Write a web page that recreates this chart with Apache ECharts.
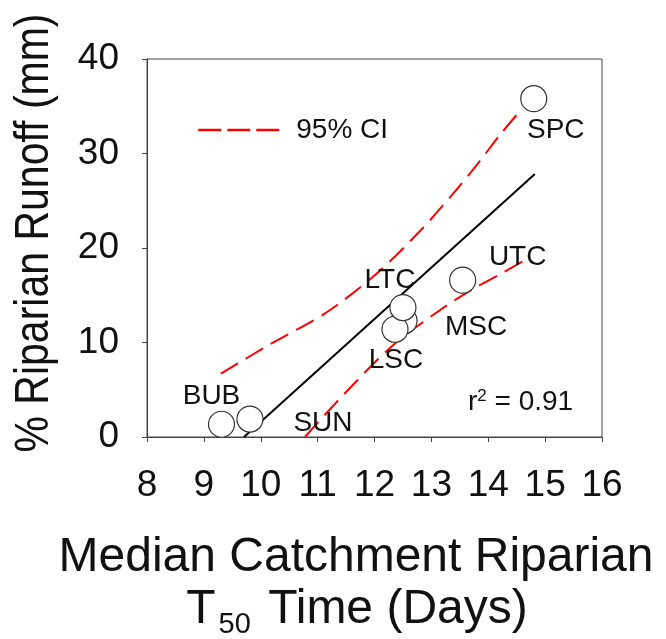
<!DOCTYPE html>
<html>
<head>
<meta charset="utf-8">
<script src="https://cdn.jsdelivr.net/npm/echarts@6/dist/echarts.min.js"></script>
<style>
  html, body { margin: 0; padding: 0; background: #fff; }
  #chart { width: 666px; height: 639px; }
</style>
</head>
<body>
<div id="chart"></div>
<script>
// Catchment sites and their observations (later entries are drawn on top)
const sites  = ['BUB', 'SUN', 'MSC', 'LSC', 'LTC', 'UTC', 'SPC'];
const t50    = [9.31, 9.81, 12.52, 12.36, 12.50, 13.55, 14.80];
const runoff = [1.35, 1.9, 12.3, 11.4, 13.7, 16.6, 35.8];

// Least-squares fit line
const fitX = [9.705, 14.82];
const fitY = [0, 27.83];

// 95% confidence band
const ciUpperX = [9.30, 10.16, 11.16, 12.04, 12.80, 13.39, 13.80, 14.21, 14.53];
const ciUpperY = [6.7, 9.8, 13.2, 17.3, 21.8, 25.8, 28.8, 32.0, 34.3];
const ciLowerX = [10.78, 11.45, 12.33, 13.24, 13.80, 14.18, 14.70];
const ciLowerY = [0.03, 4.44, 9.74, 13.79, 15.9, 17.14, 18.9];

// Axis ticks
const xTicks = [8, 9, 10, 11, 12, 13, 14, 15, 16];
const yTicks = [0, 10, 20, 30, 40];

// Site label placement relative to each marker (px)
const labelOffsets = {
  BUB: [-10, -28], SUN: [73, 4], LSC: [1, 31], LTC: [-13, -27],
  MSC: [72, 7], UTC: [55, -23], SPC: [22, 32]
};

const FONT = 'Liberation Sans, Arial, Helvetica, sans-serif';
const zip = (xs, ys) => xs.map((x, i) => [x, ys[i]]);
const ciLine = { color: '#ff0000', width: 2, type: [20, 9] };

const chart = echarts.init(document.getElementById('chart'));
chart.setOption({
  animation: false,
  backgroundColor: '#fff',
  textStyle: { fontFamily: FONT },
  grid: {
    left: 147, right: 64, top: 59, bottom: 202,
    show: true, borderColor: '#444', borderWidth: 1, backgroundColor: 'transparent'
  },
  legend: {
    data: ['95% CI'],
    left: 197, top: 116, padding: 0,
    itemWidth: 81, itemHeight: 28,
    itemStyle: { opacity: 0 },
    lineStyle: { type: [23, 6], width: 2.5, color: '#ff0000' },
    textStyle: { fontSize: 28, color: '#111', fontFamily: FONT, padding: [0, 0, 0, 12] }
  },
  xAxis: {
    type: 'value', min: xTicks[0], max: xTicks[xTicks.length - 1], interval: 1,
    axisLine: { lineStyle: { color: '#444', width: 1 } },
    axisTick: { show: true, inside: false, length: 5, lineStyle: { color: '#444' } },
    splitLine: { show: false },
    axisLabel: { fontSize: 37, color: '#111', margin: 30, fontFamily: FONT }
  },
  yAxis: {
    type: 'value', min: yTicks[0], max: yTicks[yTicks.length - 1], interval: 10,
    axisLine: { show: true, lineStyle: { color: '#444', width: 1 } },
    axisTick: { show: true, inside: false, length: 5, lineStyle: { color: '#444' } },
    splitLine: { show: false },
    axisLabel: { fontSize: 37, color: '#111', margin: 28, fontFamily: FONT }
  },
  series: [
    {
      name: 'fit', type: 'line', data: zip(fitX, fitY),
      symbol: 'none', lineStyle: { color: '#000', width: 2 }, z: 2, silent: true
    },
    {
      name: '95% CI', type: 'line', data: zip(ciUpperX, ciUpperY), smooth: 0.3,
      symbol: 'none', itemStyle: { color: '#ff0000' }, lineStyle: ciLine, z: 2
    },
    {
      name: '95% CI', type: 'line', data: zip(ciLowerX, ciLowerY), smooth: 0.3,
      symbol: 'none', itemStyle: { color: '#ff0000' }, lineStyle: ciLine, z: 2
    },
    {
      name: 'sites', type: 'scatter', z: 5,
      symbol: 'circle', symbolSize: 26,
      itemStyle: { color: '#fff', borderColor: '#333', borderWidth: 1.2, opacity: 1 },
      data: sites.map((s, i) => ({
        name: s, value: [t50[i], runoff[i]],
        label: { offset: labelOffsets[s] }
      })),
      label: {
        show: true, position: 'inside', formatter: p => p.name,
        fontSize: 28, color: '#111', fontFamily: FONT
      }
    }
  ],
  graphic: [
    {
      type: 'text', left: 468, top: 388, z: 10,
      style: {
        text: '{r|r}{sup|2}{r| = 0.91}',
        rich: {
          r: { fontSize: 28, fontFamily: FONT, fill: '#111' },
          sup: { fontSize: 17, fontFamily: FONT, fill: '#111', verticalAlign: 'top', padding: [0, 0, 10, 0] }
        }
      }
    },
    {
      type: 'text', x: 35, y: 233, rotation: Math.PI / 2, scaleY: 1.15, z: 10,
      style: {
        text: '% Riparian Runoff (mm)',
        font: '41px ' + FONT, fill: '#111',
        textAlign: 'center', textVerticalAlign: 'middle'
      }
    },
    {
      type: 'text', x: 356, y: 558, z: 10,
      style: {
        text: 'Median Catchment Riparian',
        font: '48px ' + FONT, fill: '#111',
        textAlign: 'center', textVerticalAlign: 'middle'
      }
    },
    {
      type: 'text', x: 357, y: 610, z: 10,
      style: {
        text: '{a|T}{s|50}{a| Time (Days)}',
        textAlign: 'center', textVerticalAlign: 'middle',
        rich: {
          a: { fontSize: 48, fontFamily: FONT, fill: '#111' },
          s: { fontSize: 29, fontFamily: FONT, fill: '#111', padding: [30, 4, 0, 3] }
        }
      }
    }
  ]
});
</script>
</body>
</html>
